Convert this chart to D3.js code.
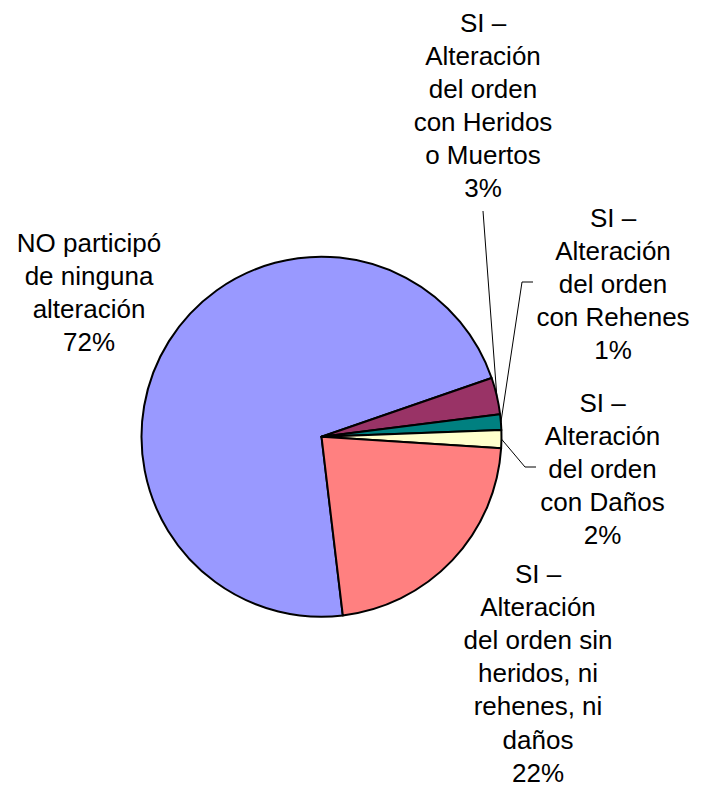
<!DOCTYPE html>
<html>
<head>
<meta charset="utf-8">
<script src="https://cdn.jsdelivr.net/npm/d3@7"></script>
<style>
  html, body { margin: 0; padding: 0; background: #fff; }
  svg text { font-family: "Liberation Sans", Arial, sans-serif; font-size: 26px; fill: #000; }
</style>
</head>
<body>
<div class="chart-pie"></div>
<script>
// categories (each label split in the lines it is shown on)
const categories = [
  ["NO participó", "de ninguna", "alteración"],
  ["SI –", "Alteración", "del orden", "con Heridos", "o Muertos"],
  ["SI –", "Alteración", "del orden", "con Rehenes"],
  ["SI –", "Alteración", "del orden", "con Daños"],
  ["SI –", "Alteración", "del orden sin", "heridos, ni", "rehenes, ni", "daños"]
];
// share of each category, in %
const values = [71.6, 3.3, 1.4, 1.6, 22.1];
const colors = ["#9999FF", "#993366", "#008080", "#FFFFCC", "#FF8080"];

const width = 704;
const height = 787;
const cx = 321.5;
const cy = 436.7;
const radius = 180;
const lineHeight = 33.1;

// label layout: centre x, first baseline, and leader elbow points
const labelLayout = [
  { x: 89, y: 252, leader: null },
  { x: 483, y: 31.7, leader: [[483, 211]] },
  { x: 613, y: 226.7, leader: [[533, 282], [522, 282]] },
  { x: 602.5, y: 411.7, leader: [[536, 467], [525, 467]] },
  { x: 538, y: 583, leader: null }
];

const svg = d3
  .select(".chart-pie")
  .append("svg")
  .attr("width", width)
  .attr("height", height);

const startAngle = (173.2 * Math.PI) / 180;
const pie = d3
  .pie()
  .sort(null)
  .startAngle(startAngle)
  .endAngle(startAngle + 2 * Math.PI);

const arcs = pie(values);
const arc = d3.arc().innerRadius(0).outerRadius(radius);

const g = svg.append("g").attr("transform", `translate(${cx},${cy})`);

g.selectAll("path")
  .data(arcs)
  .enter()
  .append("path")
  .attr("d", arc)
  .attr("fill", (d, i) => colors[i])
  .attr("stroke", "#000")
  .attr("stroke-width", 2)
  .attr("stroke-linejoin", "round");

const fmt = d3.format(".0%");

// leader lines from the slice edge to the label
arcs.forEach((d, i) => {
  const lay = labelLayout[i];
  if (!lay.leader) return;
  const mid = (d.startAngle + d.endAngle) / 2;
  const edge = [cx + radius * Math.sin(mid), cy - radius * Math.cos(mid)];
  svg
    .append("path")
    .attr("d", d3.line()([...lay.leader, edge]))
    .attr("fill", "none")
    .attr("stroke", "#000")
    .attr("stroke-width", 1);
});

// labels
arcs.forEach((d, i) => {
  const lay = labelLayout[i];
  const lines = [...categories[i], fmt(d.data / 100)];
  const t = svg
    .append("text")
    .attr("text-anchor", "middle");
  lines.forEach((line, k) => {
    t.append("tspan")
      .attr("x", lay.x)
      .attr("y", lay.y + k * lineHeight)
      .text(line);
  });
});
</script>
</body>
</html>
